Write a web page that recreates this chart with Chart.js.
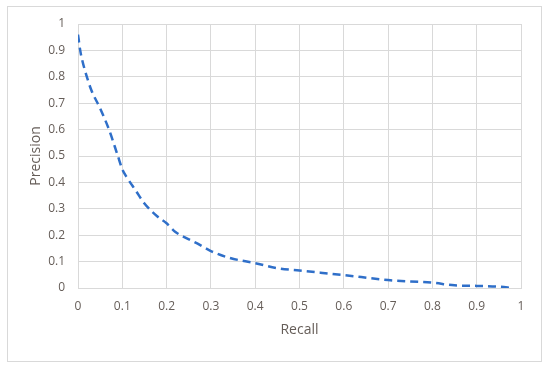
<!DOCTYPE html>
<html>
<head>
<meta charset="utf-8">
<script src="https://cdn.jsdelivr.net/npm/chart.js@4/dist/chart.umd.min.js"></script>
<style>
  html, body { margin: 0; padding: 0; background: #ffffff; }
  #wrap { position: relative; width: 550px; height: 371px; }
</style>
</head>
<body>
<div id="wrap"><canvas id="c" width="550" height="371"></canvas></div>
<script>
// Data
const recall    = [0, 0.005, 0.01, 0.02, 0.03, 0.05, 0.07, 0.09, 0.1, 0.11, 0.13, 0.15, 0.18, 0.2, 0.22, 0.24, 0.27, 0.3, 0.34, 0.4, 0.45, 0.5, 0.6, 0.7, 0.8, 0.85, 0.9, 0.95, 0.98];
const precision = [0.96, 0.9, 0.86, 0.8, 0.75, 0.68, 0.6, 0.5, 0.45, 0.42, 0.37, 0.32, 0.27, 0.245, 0.212, 0.193, 0.168, 0.14, 0.115, 0.094, 0.075, 0.066, 0.049, 0.03, 0.02, 0.01, 0.008, 0.005, 0];
const tickValues = [0, 0.1, 0.2, 0.3, 0.4, 0.5, 0.6, 0.7, 0.8, 0.9, 1];
const xTitle = 'Recall';
const yTitle = 'Precision';

const points = recall.map((r, i) => ({ x: r, y: precision[i] }));
const textColor = '#655d58';
const gridColor = '#d9d9d9';
const fontFam = '"Open Sans", Lato, sans-serif';

const borderPlugin = {
  id: 'outerBorder',
  beforeDraw(chart) {
    const ctx = chart.ctx;
    ctx.save();
    ctx.fillStyle = '#ffffff';
    ctx.fillRect(0, 0, chart.width, chart.height);
    ctx.strokeStyle = '#d9d9d9';
    ctx.lineWidth = 1;
    ctx.strokeRect(7.5, 6.5, 534, 355);
    ctx.restore();
  }
};

new Chart(document.getElementById('c'), {
  type: 'scatter',
  data: {
    datasets: [{
      data: points,
      showLine: true,
      borderColor: '#2f6fc9',
      borderWidth: 2.5,
      borderDash: [8, 5],
      pointRadius: 0,
      pointHoverRadius: 0,
      cubicInterpolationMode: 'monotone',
      fill: false
    }]
  },
  options: {
    responsive: false,
    animation: false,
    devicePixelRatio: 1,
    layout: { padding: { left: 22, right: 29, top: 24, bottom: 20 } },
    plugins: { legend: { display: false }, tooltip: { enabled: false } },
    scales: {
      x: {
        type: 'linear',
        min: 0, max: 1,
        afterBuildTicks(scale) { scale.ticks = tickValues.map(v => ({ value: v })); },
        afterFit(scale) { scale.height = 371 - 288 - 20; },
        grid: { color: gridColor, drawTicks: false, lineWidth: 1 },
        border: { color: gridColor },
        ticks: {
          color: textColor, font: { family: fontFam, size: 12 }, padding: 11,
          maxRotation: 0, autoSkip: false,
          callback: v => String(Math.round(v * 10) / 10)
        },
        title: { display: true, text: xTitle, color: textColor, font: { family: fontFam, size: 14 }, padding: { top: 0, bottom: 13 } }
      },
      y: {
        type: 'linear',
        min: 0, max: 1,
        afterBuildTicks(scale) { scale.ticks = tickValues.map(v => ({ value: v })); },
        afterFit(scale) { scale.width = 78 - 22; },
        grid: { color: gridColor, drawTicks: false, lineWidth: 1 },
        border: { color: gridColor },
        ticks: {
          color: textColor, font: { family: fontFam, size: 12 }, padding: 13,
          autoSkip: false,
          callback: v => String(Math.round(v * 10) / 10)
        },
        title: { display: true, text: yTitle, color: textColor, font: { family: fontFam, size: 14 }, padding: { top: 6, bottom: 0 } }
      }
    }
  },
  plugins: [borderPlugin]
});
</script>
</body>
</html>
